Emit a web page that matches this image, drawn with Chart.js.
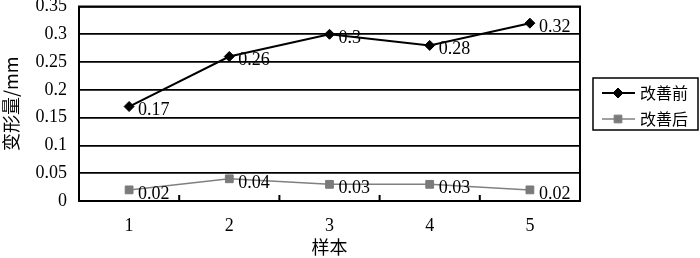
<!DOCTYPE html>
<html>
<head>
<meta charset="utf-8">
<script src="https://cdn.jsdelivr.net/npm/chart.js@4/dist/chart.umd.min.js"></script>
<style>
  html, body { margin: 0; padding: 0; background: #fff; }
  #wrap { width: 700px; height: 258px; }
</style>
</head>
<body>
<div id="wrap"><canvas id="chart" width="700" height="258"></canvas></div>
<script>
// data
const categories = ['1', '2', '3', '4', '5'];
const beforeValues = [0.17, 0.26, 0.3, 0.28, 0.32];
const afterValues = [0.02, 0.04, 0.03, 0.03, 0.02];
const yTickLabels = ['0', '0.05', '0.1', '0.15', '0.2', '0.25', '0.3', '0.35'];
const seriesNames = ['改善前', '改善后'];

const serif = '"Liberation Serif", "DejaVu Serif", serif';
const cjk = '"Noto Sans CJK SC", "Noto Sans", sans-serif';

// value labels next to each point (down-right of the marker)
const valueLabels = {
    id: 'valueLabels',
    afterDatasetsDraw(chart) {
        const ctx = chart.ctx;
        ctx.save();
        ctx.font = '18px ' + serif;
        ctx.fillStyle = '#000';
        ctx.textBaseline = 'middle';
        ctx.textAlign = 'left';
        chart.data.datasets.forEach((ds, i) => {
            const meta = chart.getDatasetMeta(i);
            meta.data.forEach((pt, j) => {
                ctx.fillText(String(ds.data[j]), pt.x + 9, pt.y + 4);
            });
        });
        ctx.restore();
    }
};

// plot frame + little inward ticks between the categories on the bottom axis
const frameAndTicks = {
    id: 'frameAndTicks',
    afterDraw(chart) {
        const x = chart.scales.x;
        const ctx = chart.ctx;
        const area = chart.chartArea;
        ctx.save();
        ctx.strokeStyle = '#000';
        ctx.lineWidth = 2;
        ctx.strokeRect(area.left, area.top, area.right - area.left, area.bottom - area.top);
        for (let i = 0; i < categories.length - 1; i++) {
            const px = (x.getPixelForValue(i) + x.getPixelForValue(i + 1)) / 2;
            ctx.beginPath();
            ctx.moveTo(px, area.bottom);
            ctx.lineTo(px, area.bottom - 6);
            ctx.stroke();
        }
        ctx.restore();
    }
};

// boxed legend on the right, line through marker like the original
const boxLegend = {
    id: 'boxLegend',
    afterDraw(chart) {
        const ctx = chart.ctx;
        const left = 593, top = 78, w = 105, h = 52;
        ctx.save();
        ctx.strokeStyle = '#000';
        ctx.lineWidth = 1.5;
        ctx.strokeRect(left, top, w, h);
        chart.data.datasets.forEach((ds, i) => {
            const y = top + 15 + i * 26;
            ctx.strokeStyle = ds.borderColor;
            ctx.fillStyle = ds.backgroundColor;
            ctx.lineWidth = ds.borderWidth;
            ctx.beginPath();
            ctx.moveTo(602, y);
            ctx.lineTo(635, y);
            ctx.stroke();
            ctx.lineWidth = 1;
            Chart.helpers.drawPoint(ctx, {
                pointStyle: ds.pointStyle,
                radius: ds.pointRadius,
                borderWidth: 1
            }, 618, y);
            ctx.fillStyle = '#000';
            ctx.font = '16px ' + cjk;
            ctx.textBaseline = 'middle';
            ctx.textAlign = 'left';
            ctx.fillText(ds.label, 640, y);
        });
        ctx.restore();
    }
};

new Chart(document.getElementById('chart'), {
    type: 'line',
    data: {
        labels: categories,
        datasets: [
            {
                label: seriesNames[0],
                data: beforeValues,
                borderColor: '#000',
                backgroundColor: '#000',
                pointBorderColor: '#000',
                borderWidth: 2,
                pointStyle: 'rectRot',
                pointRadius: 5,
                pointBorderWidth: 1,
                tension: 0
            },
            {
                label: seriesNames[1],
                data: afterValues,
                borderColor: '#808080',
                backgroundColor: '#7a7a7a',
                pointBorderColor: '#7a7a7a',
                borderWidth: 1.5,
                pointStyle: 'rect',
                pointRadius: 5.5,
                pointBorderWidth: 1,
                tension: 0
            }
        ]
    },
    options: {
        responsive: false,
        animation: false,
        layout: { padding: { top: 6, right: 120, left: 0, bottom: 0 } },
        plugins: {
            legend: { display: false },
            tooltip: { enabled: false }
        },
        scales: {
            x: {
                offset: true,
                grid: { display: false },
                border: { color: '#000', width: 2 },
                ticks: { color: '#000', font: { family: serif, size: 18 }, padding: 6 },
                title: {
                    display: true,
                    text: '样本',
                    color: '#000',
                    font: { family: cjk, size: 18 },
                    padding: { top: 0, bottom: 0 }
                },
                afterFit(scale) {
                    scale.height = 57;
                    scale.paddingLeft = 0;
                    scale.paddingRight = 0;
                }
            },
            y: {
                min: 0,
                max: 0.35,
                ticks: {
                    stepSize: 0.05,
                    color: '#000',
                    font: { family: serif, size: 18 },
                    padding: 12,
                    callback: (v, i) => yTickLabels[i]
                },
                grid: { color: '#000', lineWidth: 1.8, drawTicks: false },
                border: { color: '#000', width: 2 },
                title: {
                    display: true,
                    text: '变形量/mm',
                    color: '#000',
                    font: { family: cjk, size: 18 },
                    padding: { top: 0, bottom: 0 }
                },
                afterFit(scale) {
                    scale.width = 79;
                    scale.paddingTop = 0;
                    scale.paddingBottom = 0;
                }
            }
        }
    },
    plugins: [valueLabels, frameAndTicks, boxLegend]
});
</script>
</body>
</html>
